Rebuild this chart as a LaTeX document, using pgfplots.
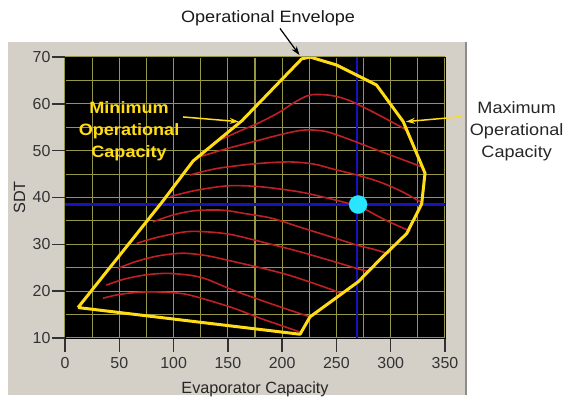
\documentclass[border=0pt]{standalone}
\usepackage{fontspec}
\setmainfont{Liberation Sans}
\newfontfamily\annfont[FakeStretch=1.1]{Liberation Sans}
\usepackage{pgfplots}
\pgfplotsset{compat=1.18}
\usetikzlibrary{arrows.meta}
\definecolor{panel}{RGB}{212,208,200}
\definecolor{gridc}{RGB}{150,150,70}
\definecolor{envy}{RGB}{255,220,20}
\definecolor{curve}{RGB}{190,32,35}
\definecolor{xblue}{RGB}{20,20,190}
\definecolor{mk}{RGB}{40,230,255}
\definecolor{tickc}{RGB}{50,50,50}
\begin{document}
\begin{tikzpicture}
\path[use as bounding box, fill=white] (0,0) rectangle (568bp,398bp);
\fill[panel] (8bp,3bp) rectangle (466bp,356bp);
\draw[black!45, line width=1.5bp] (466bp,3bp) -- (466bp,356bp);
\begin{axis}[
  at={(65bp,60bp)}, anchor=south west,
  scale only axis, width=380bp, height=281bp,
  xmin=0, xmax=350, ymin=10, ymax=70,
  xtick={0,50,...,350}, ytick={10,20,...,70},
  minor xtick={25,75,...,325}, minor ytick={15,25,...,65},
  grid=both,
  major grid style={gridc, line width=1.1bp},
  minor grid style={gridc, line width=1.1bp},
  axis background/.style={fill=black},
  axis line style={black, line width=0.4bp},
  tick align=outside,
  major tick length=11bp, minor tick length=0pt,
  xtick pos=left, ytick pos=left,
  xtick style={draw=tickc, line width=1.5bp},
  ytick style={draw=tickc, line width=1.5bp},
  ticklabel style={font=\fontsize{16}{16}\selectfont, text=black!80},
  xticklabel style={yshift=-5bp},
  /pgf/number format/assume math mode=true,
  xlabel={Evaporator Capacity}, ylabel={SDT},
  every axis x label/.style={at={(axis description cs:0.5,-0.196)}, anchor=base, font=\fontsize{16.3}{18}\selectfont, text=black!85},
  every axis y label/.style={at={(axis description cs:-0.105,0.5)}, anchor=base, rotate=90, font=\fontsize{16.3}{18}\selectfont, text=black!85},
]
% crosshair
\addplot[xblue, line width=2.5bp] coordinates {(269,10) (269,70)};
\addplot[xblue, line width=2.5bp] coordinates {(0,38.5) (350,38.5)};
% red performance curves
\addplot[curve, line width=1.6bp, smooth] coordinates {(35,18.5) (50,19.3) (70,19.8) (90,19.8) (110,19.4) (130,18.2) (155,16.4) (180,14.2) (200,12.6) (216,11.3)};
\addplot[curve, line width=1.6bp, smooth] coordinates {(38,21.3) (55,22.6) (75,23.5) (94,23.8) (115,23.4) (130,22.6) (155,20.2) (180,18.1) (205,16.1) (226,14.5)};
\addplot[curve, line width=1.6bp, smooth] coordinates {(49,24.9) (65,26.3) (85,27.5) (108,28.1) (130,27.6) (150,26.6) (180,25) (205,23.5) (230,21.6) (247,20.2) (255,19.4)};
\addplot[curve, line width=1.6bp, smooth] coordinates {(66,30.2) (85,31.5) (112,32.7) (135,32.6) (155,32) (185,30.3) (215,28.5) (245,26.5) (268,24.9) (280,24.2)};
\addplot[curve, line width=1.6bp, smooth] coordinates {(81,34.8) (100,36.3) (120,37.2) (145,37.3) (165,36.6) (190,35.6) (216,33.7) (245,31.6) (268,29.9) (285,28.9) (298,28)};
\addplot[curve, line width=1.6bp, smooth] coordinates {(97,40.2) (120,41.5) (150,42.5) (180,42.3) (216,41.2) (245,39.7) (260,38.8) (272,38) (295,35.2) (318,32.8)};
\addplot[curve, line width=1.6bp, smooth] coordinates {(115,44.8) (140,46.2) (175,47.2) (207,47.6) (230,47.1) (248,46) (269,44.8) (290,43.3) (310,41.3) (328,39)};
\addplot[curve, line width=1.6bp, smooth] coordinates {(124,48.7) (150,50.5) (175,52) (198,53.4) (220,54.4) (240,54.1) (262,52.4) (290,49.9) (312,48) (328,46.6)};
\addplot[curve, line width=1.6bp, smooth] coordinates {(143,52.3) (160,54.1) (180,56.1) (198,58.3) (212,60.4) (226,61.9) (245,61.8) (262,60.7) (285,58.1) (306,55.5) (316,54.2)};
% operational envelope
\addplot[envy, line width=3bp, line join=round] coordinates {(12,16.5) (90,39.2) (118,47.8) (163,56.4) (218,69.6) (225.6,70) (250,68.3) (287,64) (311.5,56.2) (331.6,45.2) (328.5,38.6) (314.7,32.3) (292,27.2) (270,22) (225.6,14.5) (216.5,10.8) (12,16.5)};
% operating point
\addplot[only marks, mark=*, mark size=9bp, mark options={fill=mk, draw=mk}] coordinates {(270,38.5)};
% annotation anchor points
\coordinate (envT) at (axis cs:187,78.3);
\coordinate (envA) at (axis cs:198,76.1);
\coordinate (envB) at (axis cs:216,70.4);
\coordinate (minT) at (axis cs:59,54.2);
\coordinate (minA) at (axis cs:108.7,57.2);
\coordinate (minB) at (axis cs:160,56.2);
\coordinate (maxT) at (axis cs:416,54.2);
\coordinate (maxA) at (axis cs:365.4,57.25);
\coordinate (maxB) at (axis cs:314,56.2);
\end{axis}
% tick marks (axis decoration, with the small gap of the original)
\begin{scope}[x=1bp, y=1bp]
\foreach \i in {0,...,7} {\draw[tickc, line width=1.5bp] ({65+\i*54.2857},57) -- ({65+\i*54.2857},46);}
\foreach \j in {0,...,6} {\draw[tickc, line width=1.5bp] (63,{60+\j*46.8333}) -- (52,{60+\j*46.8333});}
\end{scope}
\node[font=\annfont\fontsize{16.5}{18}\selectfont, text=black!90] at (envT) {Operational Envelope};
\draw[black, line width=1.2bp, -{Stealth[length=9bp,width=6bp]}] (envA) -- (envB);
\node[align=center, text=envy, font=\annfont\bfseries\fontsize{16.5}{22}\selectfont] at (minT) {Minimum\\Operational\\Capacity};
\draw[envy, line width=1.5bp, -{Stealth[length=9bp,width=6bp]}] (minA) -- (minB);
\node[align=center, text=black!85, font=\annfont\fontsize{16.5}{22}\selectfont] at (maxT) {Maximum\\Operational\\Capacity};
\draw[envy, line width=1.5bp, -{Stealth[length=9bp,width=6bp]}] (maxA) -- (maxB);
\end{tikzpicture}
\end{document}
